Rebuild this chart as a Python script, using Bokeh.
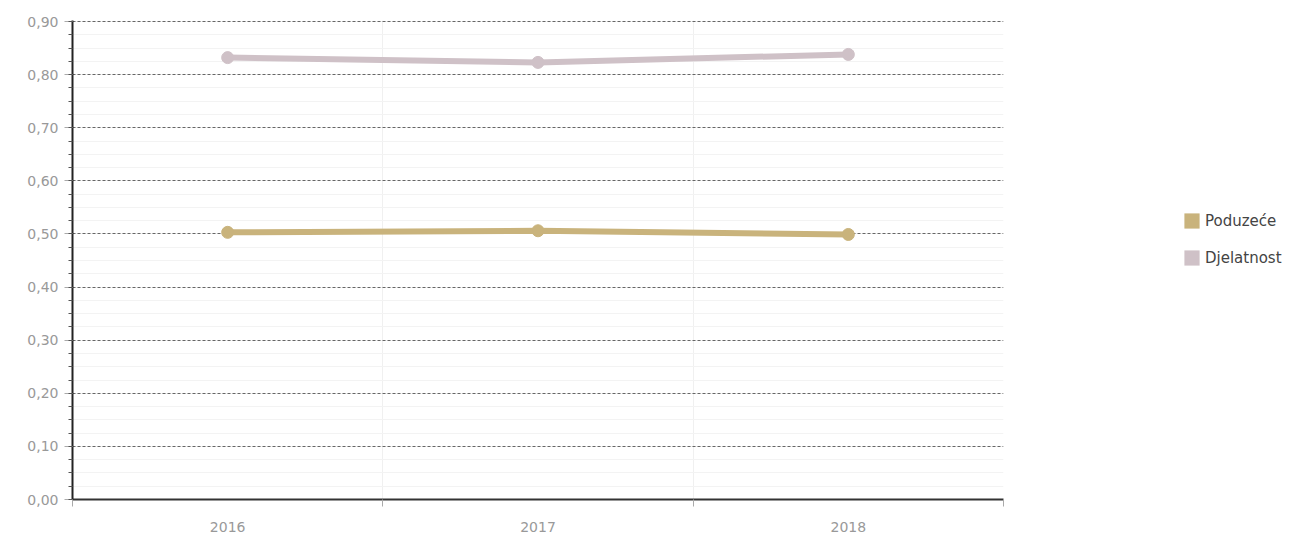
from bokeh.plotting import figure
from bokeh.models import FixedTicker, Legend, LegendItem, ColumnDataSource, LinearAxis, Grid
from bokeh.embed import file_html
from bokeh.resources import INLINE

years = ["2016", "2017", "2018"]
series_names = ["Poduzeće", "Djelatnost"]
poduzece = [0.503, 0.506, 0.499]
djelatnost = [0.832, 0.823, 0.838]
y_ticks = [0.0, 0.1, 0.2, 0.3, 0.4, 0.5, 0.6, 0.7, 0.8, 0.9]
y_labels = ["0,00", "0,10", "0,20", "0,30", "0,40", "0,50", "0,60", "0,70", "0,80", "0,90"]
colors = ["#C9B37C", "#CFC1C7"]

xpos = [i + 0.5 for i in range(len(years))]

p = figure(frame_width=931, frame_height=479, output_backend="svg", toolbar_location=None,
           x_range=(0, len(years)), y_range=(0, 0.9019),
           min_border_left=72, min_border_top=20, min_border_right=290, min_border_bottom=30,
           x_axis_type=None, y_axis_type=None)
p.outline_line_color = None

# x axis
xax = LinearAxis(ticker=FixedTicker(ticks=xpos, minor_ticks=list(range(len(years) + 1))),
                 major_label_overrides={x: y for x, y in zip(xpos, years)})
xax.major_tick_out = 0
xax.major_tick_in = 0
xax.minor_tick_out = 7
xax.minor_tick_in = 0
xax.minor_tick_line_color = "#aaaaaa"
xax.axis_line_color = "#333333"
xax.axis_line_width = 2
xax.major_label_text_color = "#999999"
xax.major_label_text_font = "DejaVu Sans"
xax.major_label_text_font_size = "14px"
xax.major_label_standoff = 15
p.add_layout(xax, "below")

# y axis
minor = [round(i * 0.025, 3) for i in range(37)]
yax = LinearAxis(ticker=FixedTicker(ticks=y_ticks, minor_ticks=minor),
                 major_label_overrides={t: l for t, l in zip(y_ticks, y_labels)})
yax.major_tick_out = 8
yax.major_tick_in = 0
yax.major_tick_line_color = "#aaaaaa"
yax.minor_tick_out = 4
yax.minor_tick_in = 0
yax.minor_tick_line_color = "#555555"
yax.axis_line_color = "#222222"
yax.axis_line_width = 2
yax.major_label_text_color = "#999999"
yax.major_label_text_font = "DejaVu Sans"
yax.major_label_text_font_size = "14px"
yax.major_label_standoff = 6
p.add_layout(yax, "left")

xgrid = Grid(dimension=0, ticker=FixedTicker(ticks=[1, 2]), grid_line_color="#f0f0f0")
ygrid = Grid(dimension=1, ticker=FixedTicker(ticks=y_ticks[1:], minor_ticks=minor),
             grid_line_color="#666666", grid_line_dash="3 2", grid_line_width=1,
             minor_grid_line_color="#f3f3f3")
p.add_layout(xgrid)
p.add_layout(ygrid)

renderers = []
nan = float("nan")
for name, vals, c in zip(series_names, [poduzece, djelatnost], colors):
    src = ColumnDataSource(dict(x=xpos, y=vals))
    p.line("x", "y", source=src, line_color=c, line_width=6)
    p.scatter("x", "y", source=src, size=12, fill_color=c, line_color=c)
    r = p.vbar(x=[nan], top=[nan], width=0.1, fill_color=c, line_color=None)
    renderers.append(r)

legend = Legend(items=[LegendItem(label=n, renderers=[r]) for n, r in zip(series_names, renderers)],
                location=(179, 232), border_line_color=None, background_fill_alpha=0,
                margin=0, padding=0,
                glyph_width=19, glyph_height=19, spacing=18, label_standoff=4,
                label_text_font="DejaVu Sans", label_text_font_size="15px",
                label_text_color="#444444")
p.add_layout(legend, "right")

open("out.html", "w").write(file_html(p, INLINE))
